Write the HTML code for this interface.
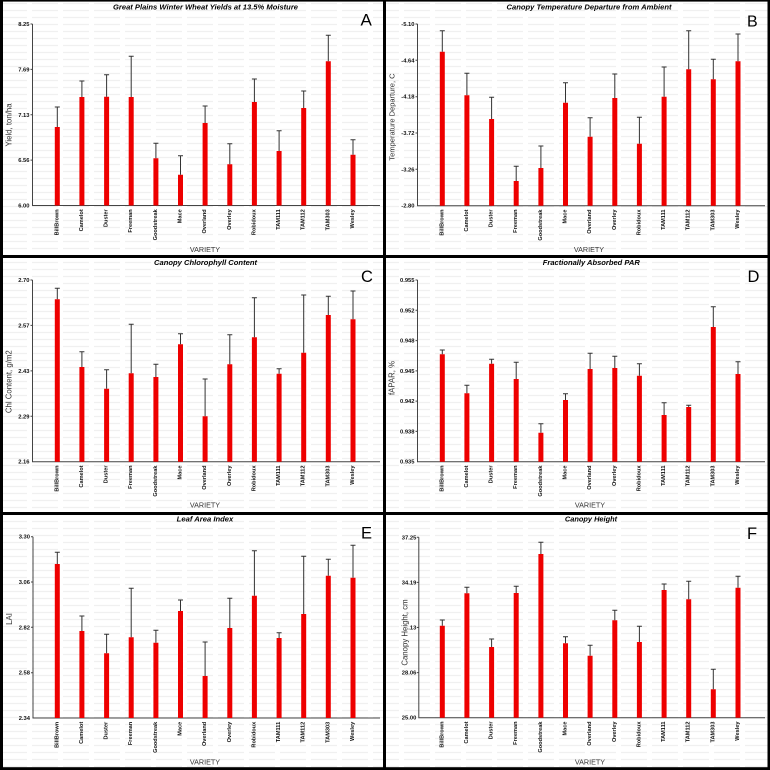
<!DOCTYPE html>
<html>
<head>
<meta charset="utf-8">
<style>
html,body{margin:0;padding:0;background:#fff;}
svg{display:block;}
</style>
</head>
<body>
<svg width="770" height="770" viewBox="0 0 770 770" xmlns="http://www.w3.org/2000/svg" font-family="'Liberation Sans', Arial, sans-serif">
<defs>
<pattern id="wm" x="0" y="0" width="31" height="7" patternUnits="userSpaceOnUse">
<line x1="1" y1="3.5" x2="27" y2="3.5" stroke="#f0f0f0" stroke-width="1.2"/>
</pattern>
</defs>
<rect x="0" y="0" width="770" height="770" fill="#fff"/>
<rect x="0" y="0" width="770" height="770" fill="url(#wm)"/>

<!-- ================= PANEL A ================= -->
<g transform="translate(0,0)">
<text x="205.5" y="9.4" text-anchor="middle" font-weight="bold" font-style="italic" font-size="7.6" textLength="185" lengthAdjust="spacingAndGlyphs" fill="#000">Great Plains Winter Wheat Yields at 13.5% Moisture</text>
<text x="360.5" y="25.5" font-size="17" fill="#000">A</text>
<path d="M32.5 24V205.5H380M30.5 24h2M30.5 69.4h2M30.5 114.8h2M30.5 160.1h2" stroke="#444" stroke-width="1" fill="none"/>
<g font-size="5.8" font-weight="bold" fill="#111" text-anchor="end">
<text x="29.5" y="26">8.25</text>
<text x="29.5" y="71.4">7.69</text>
<text x="29.5" y="116.8">7.13</text>
<text x="29.5" y="162.1">6.56</text>
<text x="29.5" y="207.5">6.00</text>
</g>
<path fill="#ee0000" d="M54.8 127h5V205.5h-5zM79.4 97h5V205.5h-5zM104.1 96.7h5V205.5h-5zM128.7 97h5V205.5h-5zM153.4 158.3h5V205.5h-5zM178 174.7h5V205.5h-5zM202.6 123h5V205.5h-5zM227.3 164.3h5V205.5h-5zM251.9 102h5V205.5h-5zM276.6 151h5V205.5h-5zM301.2 108h5V205.5h-5zM325.8 61.3h5V205.5h-5zM350.5 154.7h5V205.5h-5z"/>
<path stroke="#333" stroke-width="1" fill="none" d="M57.3 107V127M54.8 107h5M81.9 81V97M79.4 81h5M106.6 74.7V96.7M104.1 74.7h5M131.2 56.3V97M128.7 56.3h5M155.9 143.3V158.3M153.4 143.3h5M180.5 155.7V174.7M178 155.7h5M205.1 106V123M202.6 106h5M229.8 143.7V164.3M227.3 143.7h5M254.4 79V102M251.9 79h5M279.1 130.7V151M276.6 130.7h5M303.7 91V108M301.2 91h5M328.3 35.3V61.3M325.8 35.3h5M353 139.7V154.7M350.5 139.7h5"/>
<g font-size="5.6" font-weight="bold" fill="#111" text-anchor="end" dominant-baseline="central">
<text transform="translate(57.3,209.3) rotate(-90)">BillBrown</text>
<text transform="translate(81.9,209.3) rotate(-90)">Camelot</text>
<text transform="translate(106.6,209.3) rotate(-90)">Duster</text>
<text transform="translate(131.2,209.3) rotate(-90)">Freeman</text>
<text transform="translate(155.9,209.3) rotate(-90)">Goodstreak</text>
<text transform="translate(180.5,209.3) rotate(-90)">Mace</text>
<text transform="translate(205.1,209.3) rotate(-90)">Overland</text>
<text transform="translate(229.8,209.3) rotate(-90)">Overley</text>
<text transform="translate(254.4,209.3) rotate(-90)">Robidoux</text>
<text transform="translate(279.1,209.3) rotate(-90)">TAM111</text>
<text transform="translate(303.7,209.3) rotate(-90)">TAM112</text>
<text transform="translate(328.3,209.3) rotate(-90)">TAM303</text>
<text transform="translate(353,209.3) rotate(-90)">Wesley</text>
</g>
<text x="205" y="252" text-anchor="middle" font-size="7.2" fill="#333">VARIETY</text>
<text transform="translate(9,125) rotate(-90)" text-anchor="middle" dominant-baseline="central" font-size="7.8" fill="#333">Yield, ton/ha</text>
</g>

<!-- ================= PANEL B ================= -->
<g transform="translate(385,0)">
<text x="204" y="9.4" text-anchor="middle" font-weight="bold" font-style="italic" font-size="7.6" textLength="165" lengthAdjust="spacingAndGlyphs" fill="#000">Canopy Temperature Departure from Ambient</text>
<text x="362" y="26.7" font-size="16" fill="#000">B</text>
<path d="M32.5 24V205.7H380M30.5 24h2M30.5 60.3h2M30.5 96.7h2M30.5 133h2M30.5 169.3h2" stroke="#444" stroke-width="1" fill="none"/>
<g font-size="5.8" font-weight="bold" fill="#111" text-anchor="end">
<text x="29.5" y="26">-5.10</text>
<text x="29.5" y="62.3">-4.64</text>
<text x="29.5" y="98.7">-4.18</text>
<text x="29.5" y="135">-3.72</text>
<text x="29.5" y="171.3">-3.26</text>
<text x="29.5" y="207.7">-2.80</text>
</g>
<path fill="#ee0000" d="M54.8 51.7h5V205.7h-5zM79.4 95.3h5V205.7h-5zM104.1 119h5V205.7h-5zM128.7 181h5V205.7h-5zM153.4 168h5V205.7h-5zM178 102.7h5V205.7h-5zM202.6 136.7h5V205.7h-5zM227.3 98h5V205.7h-5zM251.9 143.7h5V205.7h-5zM276.6 96.7h5V205.7h-5zM301.2 69.3h5V205.7h-5zM325.8 79.3h5V205.7h-5zM350.5 61.3h5V205.7h-5z"/>
<path stroke="#333" stroke-width="1" fill="none" d="M57.3 30.7V51.7M54.8 30.7h5M81.9 73.3V95.3M79.4 73.3h5M106.6 97.3V119M104.1 97.3h5M131.2 166.3V181M128.7 166.3h5M155.9 146V168M153.4 146h5M180.5 82.7V102.7M178 82.7h5M205.1 117.7V136.7M202.6 117.7h5M229.8 74V98M227.3 74h5M254.4 117.3V143.7M251.9 117.3h5M279.1 67V96.7M276.6 67h5M303.7 30.7V69.3M301.2 30.7h5M328.3 59.3V79.3M325.8 59.3h5M353 34V61.3M350.5 34h5"/>
<g font-size="5.6" font-weight="bold" fill="#111" text-anchor="end" dominant-baseline="central">
<text transform="translate(57.3,209.5) rotate(-90)">BillBrown</text>
<text transform="translate(81.9,209.5) rotate(-90)">Camelot</text>
<text transform="translate(106.6,209.5) rotate(-90)">Duster</text>
<text transform="translate(131.2,209.5) rotate(-90)">Freeman</text>
<text transform="translate(155.9,209.5) rotate(-90)">Goodstreak</text>
<text transform="translate(180.5,209.5) rotate(-90)">Mace</text>
<text transform="translate(205.1,209.5) rotate(-90)">Overland</text>
<text transform="translate(229.8,209.5) rotate(-90)">Overley</text>
<text transform="translate(254.4,209.5) rotate(-90)">Robidoux</text>
<text transform="translate(279.1,209.5) rotate(-90)">TAM111</text>
<text transform="translate(303.7,209.5) rotate(-90)">TAM112</text>
<text transform="translate(328.3,209.5) rotate(-90)">TAM303</text>
<text transform="translate(353,209.5) rotate(-90)">Wesley</text>
</g>
<text x="204" y="252" text-anchor="middle" font-size="7.2" fill="#333">VARIETY</text>
<text transform="translate(7,117) rotate(-90)" text-anchor="middle" dominant-baseline="central" font-size="7.5" fill="#333">Temperature Departure, C</text>
</g>

<!-- ================= PANEL C ================= -->
<g transform="translate(0,255)">
<text x="205.5" y="10" text-anchor="middle" font-weight="bold" font-style="italic" font-size="7.6" textLength="103" lengthAdjust="spacingAndGlyphs" fill="#000">Canopy Chlorophyll Content</text>
<text x="361" y="27" font-size="16.5" fill="#000">C</text>
<path d="M32.5 25V206.7H380M30.5 25h2M30.5 70.4h2M30.5 115.9h2M30.5 161.3h2" stroke="#444" stroke-width="1" fill="none"/>
<g font-size="5.8" font-weight="bold" fill="#111" text-anchor="end">
<text x="29.5" y="27">2.70</text>
<text x="29.5" y="72.4">2.57</text>
<text x="29.5" y="117.9">2.43</text>
<text x="29.5" y="163.3">2.29</text>
<text x="29.5" y="208.7">2.16</text>
</g>
<path fill="#ee0000" d="M54.8 44.3h5V206.7h-5zM79.4 112h5V206.7h-5zM104.1 133.7h5V206.7h-5zM128.7 118.3h5V206.7h-5zM153.4 122h5V206.7h-5zM178 89.3h5V206.7h-5zM202.6 161.3h5V206.7h-5zM227.3 109.3h5V206.7h-5zM251.9 82.3h5V206.7h-5zM276.6 118.7h5V206.7h-5zM301.2 97.7h5V206.7h-5zM325.8 60h5V206.7h-5zM350.5 64.3h5V206.7h-5z"/>
<path stroke="#333" stroke-width="1" fill="none" d="M57.3 33.3V44.3M54.8 33.3h5M81.9 96.7V112M79.4 96.7h5M106.6 114.7V133.7M104.1 114.7h5M131.2 69.3V118.3M128.7 69.3h5M155.9 109.3V122M153.4 109.3h5M180.5 78.7V89.3M178 78.7h5M205.1 124V161.3M202.6 124h5M229.8 79.7V109.3M227.3 79.7h5M254.4 42.7V82.3M251.9 42.7h5M279.1 113.7V118.7M276.6 113.7h5M303.7 40V97.7M301.2 40h5M328.3 41.3V60M325.8 41.3h5M353 36V64.3M350.5 36h5"/>
<g font-size="5.6" font-weight="bold" fill="#111" text-anchor="end" dominant-baseline="central">
<text transform="translate(57.3,210.5) rotate(-90)">BillBrown</text>
<text transform="translate(81.9,210.5) rotate(-90)">Camelot</text>
<text transform="translate(106.6,210.5) rotate(-90)">Duster</text>
<text transform="translate(131.2,210.5) rotate(-90)">Freeman</text>
<text transform="translate(155.9,210.5) rotate(-90)">Goodstreak</text>
<text transform="translate(180.5,210.5) rotate(-90)">Mace</text>
<text transform="translate(205.1,210.5) rotate(-90)">Overland</text>
<text transform="translate(229.8,210.5) rotate(-90)">Overley</text>
<text transform="translate(254.4,210.5) rotate(-90)">Robidoux</text>
<text transform="translate(279.1,210.5) rotate(-90)">TAM111</text>
<text transform="translate(303.7,210.5) rotate(-90)">TAM112</text>
<text transform="translate(328.3,210.5) rotate(-90)">TAM303</text>
<text transform="translate(353,210.5) rotate(-90)">Wesley</text>
</g>
<text x="205" y="252.7" text-anchor="middle" font-size="7.2" fill="#333">VARIETY</text>
<text transform="translate(9,126.7) rotate(-90)" text-anchor="middle" dominant-baseline="central" font-size="7.8" fill="#333">Chl Content, g/m2</text>
</g>

<!-- ================= PANEL D ================= -->
<g transform="translate(385,255)">
<text x="206.3" y="10" text-anchor="middle" font-weight="bold" font-style="italic" font-size="7.6" textLength="97" lengthAdjust="spacingAndGlyphs" fill="#000">Fractionally Absorbed PAR</text>
<text x="362.5" y="27" font-size="16.5" fill="#000">D</text>
<path d="M32.5 25V206.7H380M30.5 25h2M30.5 55.3h2M30.5 85.6h2M30.5 115.9h2M30.5 146.1h2M30.5 176.4h2" stroke="#444" stroke-width="1" fill="none"/>
<g font-size="5.8" font-weight="bold" fill="#111" text-anchor="end">
<text x="29.5" y="27">0.955</text>
<text x="29.5" y="57.3">0.952</text>
<text x="29.5" y="87.6">0.948</text>
<text x="29.5" y="117.9">0.945</text>
<text x="29.5" y="148.1">0.942</text>
<text x="29.5" y="178.4">0.938</text>
<text x="29.5" y="208.7">0.935</text>
</g>
<path fill="#ee0000" d="M54.8 99.3h5V206.7h-5zM79.4 138.3h5V206.7h-5zM104.1 108.7h5V206.7h-5zM128.7 124h5V206.7h-5zM153.4 177.7h5V206.7h-5zM178 145h5V206.7h-5zM202.6 114h5V206.7h-5zM227.3 113h5V206.7h-5zM251.9 120.7h5V206.7h-5zM276.6 160h5V206.7h-5zM301.2 152h5V206.7h-5zM325.8 72h5V206.7h-5zM350.5 119h5V206.7h-5z"/>
<path stroke="#333" stroke-width="1" fill="none" d="M57.3 95V99.3M54.8 95h5M81.9 130.3V138.3M79.4 130.3h5M106.6 104.3V108.7M104.1 104.3h5M131.2 107.3V124M128.7 107.3h5M155.9 168.7V177.7M153.4 168.7h5M180.5 138.7V145M178 138.7h5M205.1 98.3V114M202.6 98.3h5M229.8 101.3V113M227.3 101.3h5M254.4 108.7V120.7M251.9 108.7h5M279.1 147.7V160M276.6 147.7h5M303.7 150.3V152M301.2 150.3h5M328.3 51.7V72M325.8 51.7h5M353 106.7V119M350.5 106.7h5"/>
<g font-size="5.6" font-weight="bold" fill="#111" text-anchor="end" dominant-baseline="central">
<text transform="translate(57.3,210.5) rotate(-90)">BillBrown</text>
<text transform="translate(81.9,210.5) rotate(-90)">Camelot</text>
<text transform="translate(106.6,210.5) rotate(-90)">Duster</text>
<text transform="translate(131.2,210.5) rotate(-90)">Freeman</text>
<text transform="translate(155.9,210.5) rotate(-90)">Goodstreak</text>
<text transform="translate(180.5,210.5) rotate(-90)">Mace</text>
<text transform="translate(205.1,210.5) rotate(-90)">Overland</text>
<text transform="translate(229.8,210.5) rotate(-90)">Overley</text>
<text transform="translate(254.4,210.5) rotate(-90)">Robidoux</text>
<text transform="translate(279.1,210.5) rotate(-90)">TAM111</text>
<text transform="translate(303.7,210.5) rotate(-90)">TAM112</text>
<text transform="translate(328.3,210.5) rotate(-90)">TAM303</text>
<text transform="translate(353,210.5) rotate(-90)">Wesley</text>
</g>
<text x="205" y="252.7" text-anchor="middle" font-size="7.2" fill="#333">VARIETY</text>
<text transform="translate(7,123) rotate(-90)" text-anchor="middle" dominant-baseline="central" font-size="7.8" fill="#333">fAPAR, %</text>
</g>

<!-- ================= PANEL E ================= -->
<g transform="translate(0,510)">
<text x="205" y="11.7" text-anchor="middle" font-weight="bold" font-style="italic" font-size="7.6" textLength="56.6" lengthAdjust="spacingAndGlyphs" fill="#000">Leaf Area Index</text>
<text x="361" y="28.3" font-size="16.5" fill="#000">E</text>
<path d="M33 26.7V208H380M31 26.7h2M31 72h2M31 117.3h2M31 162.7h2" stroke="#444" stroke-width="1" fill="none"/>
<g font-size="5.8" font-weight="bold" fill="#111" text-anchor="end">
<text x="30" y="28.7">3.30</text>
<text x="30" y="74">3.06</text>
<text x="30" y="119.3">2.82</text>
<text x="30" y="164.7">2.58</text>
<text x="30" y="210">2.34</text>
</g>
<path fill="#ee0000" d="M54.8 54h5V208h-5zM79.4 121h5V208h-5zM104.1 143.3h5V208h-5zM128.7 127.3h5V208h-5zM153.4 132.7h5V208h-5zM178 101h5V208h-5zM202.6 166h5V208h-5zM227.3 118h5V208h-5zM251.9 85.7h5V208h-5zM276.6 128h5V208h-5zM301.2 104h5V208h-5zM325.8 65.7h5V208h-5zM350.5 67.7h5V208h-5z"/>
<path stroke="#333" stroke-width="1" fill="none" d="M57.3 42.3V54M54.8 42.3h5M81.9 106V121M79.4 106h5M106.6 124.3V143.3M104.1 124.3h5M131.2 78.3V127.3M128.7 78.3h5M155.9 120.3V132.7M153.4 120.3h5M180.5 90V101M178 90h5M205.1 132V166M202.6 132h5M229.8 88.3V118M227.3 88.3h5M254.4 40.7V85.7M251.9 40.7h5M279.1 122.7V128M276.6 122.7h5M303.7 46.3V104M301.2 46.3h5M328.3 49.3V65.7M325.8 49.3h5M353 35.3V67.7M350.5 35.3h5"/>
<g font-size="5.6" font-weight="bold" fill="#111" text-anchor="end" dominant-baseline="central">
<text transform="translate(57.3,211.8) rotate(-90)">BillBrown</text>
<text transform="translate(81.9,211.8) rotate(-90)">Camelot</text>
<text transform="translate(106.6,211.8) rotate(-90)">Duster</text>
<text transform="translate(131.2,211.8) rotate(-90)">Freeman</text>
<text transform="translate(155.9,211.8) rotate(-90)">Goodstreak</text>
<text transform="translate(180.5,211.8) rotate(-90)">Mace</text>
<text transform="translate(205.1,211.8) rotate(-90)">Overland</text>
<text transform="translate(229.8,211.8) rotate(-90)">Overley</text>
<text transform="translate(254.4,211.8) rotate(-90)">Robidoux</text>
<text transform="translate(279.1,211.8) rotate(-90)">TAM111</text>
<text transform="translate(303.7,211.8) rotate(-90)">TAM112</text>
<text transform="translate(328.3,211.8) rotate(-90)">TAM303</text>
<text transform="translate(353,211.8) rotate(-90)">Wesley</text>
</g>
<text x="205" y="254.4" text-anchor="middle" font-size="7.2" fill="#333">VARIETY</text>
<text transform="translate(9.3,109) rotate(-90)" text-anchor="middle" dominant-baseline="central" font-size="7.8" fill="#333">LAI</text>
</g>

<!-- ================= PANEL F ================= -->
<g transform="translate(385,510)">
<text x="206" y="11.7" text-anchor="middle" font-weight="bold" font-style="italic" font-size="7.6" textLength="52.3" lengthAdjust="spacingAndGlyphs" fill="#000">Canopy Height</text>
<text x="362" y="29" font-size="16.5" fill="#000">F</text>
<path d="M33.8 27.3V207.7H380M31.8 27.3h2M31.8 72.4h2M31.8 117.5h2M31.8 162.6h2" stroke="#444" stroke-width="1" fill="none"/>
<g font-size="5.8" font-weight="bold" fill="#111" text-anchor="end">
<text x="31.3" y="29.3">37.25</text>
<text x="31.3" y="74.4">34.19</text>
<text x="31.3" y="119.5">.13</text>
<text x="31.3" y="164.6">28.06</text>
<text x="31.3" y="209.7">25.00</text>
</g>
<path fill="#ee0000" d="M54.8 115.7h5V207.7h-5zM79.4 83.3h5V207.7h-5zM104.1 137h5V207.7h-5zM128.7 83h5V207.7h-5zM153.4 44h5V207.7h-5zM178 133.3h5V207.7h-5zM202.6 145.7h5V207.7h-5zM227.3 110.3h5V207.7h-5zM251.9 132h5V207.7h-5zM276.6 80h5V207.7h-5zM301.2 89.3h5V207.7h-5zM325.8 179.3h5V207.7h-5zM350.5 77.7h5V207.7h-5z"/>
<path stroke="#333" stroke-width="1" fill="none" d="M57.3 110V115.7M54.8 110h5M81.9 77.3V83.3M79.4 77.3h5M106.6 129V137M104.1 129h5M131.2 76.3V83M128.7 76.3h5M155.9 32.3V44M153.4 32.3h5M180.5 126.7V133.3M178 126.7h5M205.1 135.3V145.7M202.6 135.3h5M229.8 100.3V110.3M227.3 100.3h5M254.4 116.3V132M251.9 116.3h5M279.1 74V80M276.6 74h5M303.7 71.3V89.3M301.2 71.3h5M328.3 159.3V179.3M325.8 159.3h5M353 66.3V77.7M350.5 66.3h5"/>
<g font-size="5.6" font-weight="bold" fill="#111" text-anchor="end" dominant-baseline="central">
<text transform="translate(57.3,211.5) rotate(-90)">BillBrown</text>
<text transform="translate(81.9,211.5) rotate(-90)">Camelot</text>
<text transform="translate(106.6,211.5) rotate(-90)">Duster</text>
<text transform="translate(131.2,211.5) rotate(-90)">Freeman</text>
<text transform="translate(155.9,211.5) rotate(-90)">Goodstreak</text>
<text transform="translate(180.5,211.5) rotate(-90)">Mace</text>
<text transform="translate(205.1,211.5) rotate(-90)">Overland</text>
<text transform="translate(229.8,211.5) rotate(-90)">Overley</text>
<text transform="translate(254.4,211.5) rotate(-90)">Robidoux</text>
<text transform="translate(279.1,211.5) rotate(-90)">TAM111</text>
<text transform="translate(303.7,211.5) rotate(-90)">TAM112</text>
<text transform="translate(328.3,211.5) rotate(-90)">TAM303</text>
<text transform="translate(353,211.5) rotate(-90)">Wesley</text>
</g>
<text x="205" y="254.4" text-anchor="middle" font-size="7.2" fill="#333">VARIETY</text>
<text transform="translate(20,122.5) rotate(-90)" text-anchor="middle" dominant-baseline="central" font-size="7.8" fill="#333">Canopy Height, cm</text>
</g>

<!-- ================= FRAME ================= -->
<g fill="#000">
<rect x="0" y="0" width="3" height="770"/>
<rect x="0" y="0" width="770" height="1.6"/>
<rect x="767.5" y="0" width="2.5" height="770"/>
<rect x="0" y="767.2" width="770" height="2.8"/>
<rect x="383" y="0" width="3" height="770"/>
<rect x="0" y="255" width="770" height="3"/>
<rect x="0" y="512" width="770" height="3"/>
</g>
</svg>
</body>
</html>
